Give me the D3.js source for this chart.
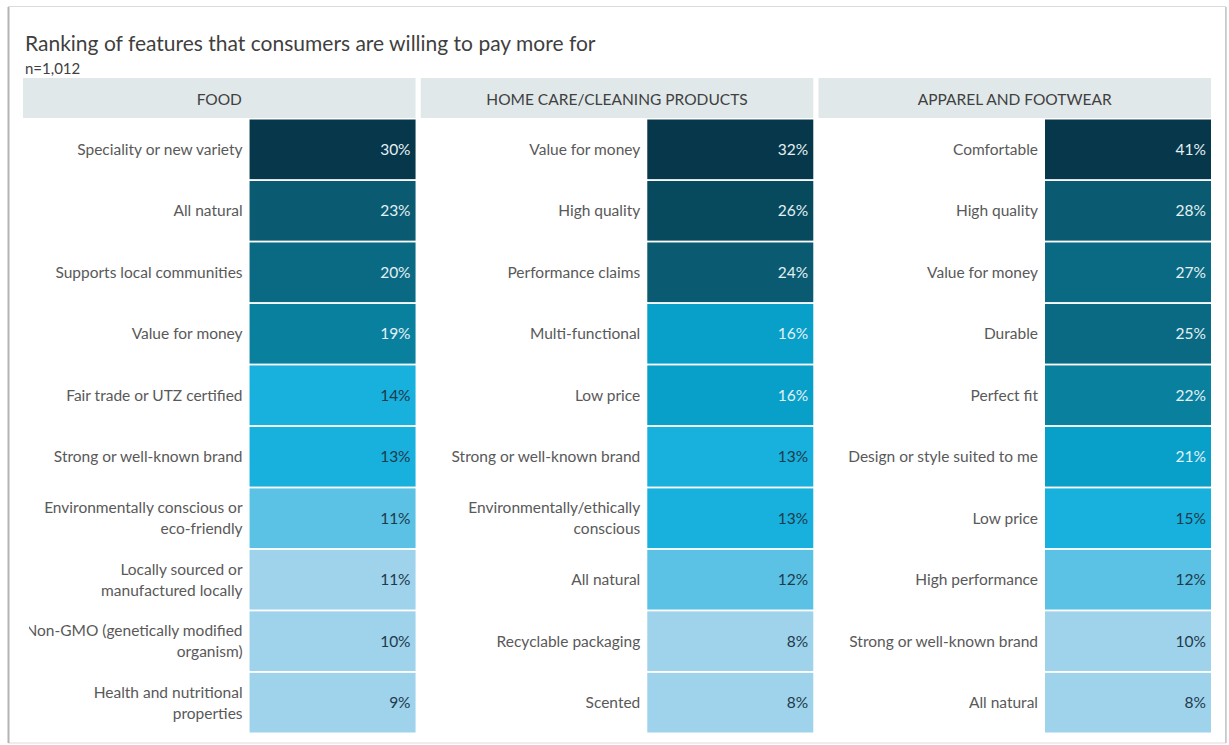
<!DOCTYPE html>
<html>
<head>
<meta charset="utf-8">
<script src="https://cdn.jsdelivr.net/npm/d3@7"></script>
<style>
  body { margin: 0; background: #fff; }
  svg { display: block; font-family: Lato, "Open Sans", "DejaVu Sans", sans-serif; }
</style>
</head>
<body>
<svg id="chart" width="1229" height="745"></svg>
<script>
// Survey panels (column headers)
const categories = ["FOOD", "HOME CARE/CLEANING PRODUCTS", "APPAREL AND FOOTWEAR"];

// Features per panel, in ranked order ("\n" marks a line break in the label)
const foodFeatures = [
  "Speciality or new variety", "All natural", "Supports local communities", "Value for money",
  "Fair trade or UTZ certified", "Strong or well-known brand", "Environmentally conscious or\neco-friendly",
  "Locally sourced or\nmanufactured locally", "Non-GMO (genetically modified\norganism)",
  "Health and nutritional\nproperties"
];
const homeFeatures = [
  "Value for money", "High quality", "Performance claims", "Multi-functional", "Low price",
  "Strong or well-known brand", "Environmentally/ethically\nconscious", "All natural",
  "Recyclable packaging", "Scented"
];
const apparelFeatures = [
  "Comfortable", "High quality", "Value for money", "Durable", "Perfect fit",
  "Design or style suited to me", "Low price", "High performance",
  "Strong or well-known brand", "All natural"
];

// Share of respondents (%)
const foodValues = [30, 23, 20, 19, 14, 13, 11, 11, 10, 9];
const homeValues = [32, 26, 24, 16, 16, 13, 13, 12, 8, 8];
const apparelValues = [41, 28, 27, 25, 22, 21, 15, 12, 10, 8];

// Shade tier of each cell (0 = darkest)
const foodTiers = [0, 2, 3, 4, 6, 6, 7, 8, 8, 8];
const homeTiers = [0, 1, 2, 5, 5, 6, 6, 7, 8, 8];
const apparelTiers = [0, 2, 3, 3, 4, 5, 6, 7, 8, 8];

const title = "Ranking of features that consumers are willing to pay more for";
const subtitle = "n=1,012";

const panels = [
  { name: categories[0], features: foodFeatures, values: foodValues, tiers: foodTiers },
  { name: categories[1], features: homeFeatures, values: homeValues, tiers: homeTiers },
  { name: categories[2], features: apparelFeatures, values: apparelValues, tiers: apparelTiers }
];

const shade = d3.scaleOrdinal()
  .domain(d3.range(9))
  .range(["#06374a", "#074a5e", "#0a5b71", "#0b6a83", "#0a809f", "#08a0c9", "#18b1de", "#5bc2e5", "#9fd2eb"]);
const valueInk = t => (t <= 5 ? "#e3f0f4" : "#1e3a4b");

const svg = d3.select("#chart");

// Card background with a soft edge
svg.append("rect")
  .attr("x", 8.5).attr("y", 6.5).attr("width", 1217).attr("height", 736.5)
  .attr("fill", "#fff").attr("stroke", "#dcdcdc");
svg.append("line").attr("x1", 8.5).attr("x2", 8.5).attr("y1", 7).attr("y2", 743)
  .attr("stroke", "#b4b4b4").attr("stroke-width", 2);
svg.append("line").attr("x1", 1226).attr("x2", 1226).attr("y1", 7).attr("y2", 743)
  .attr("stroke", "#c4c4c4").attr("stroke-width", 1.5);

svg.append("text")
  .attr("x", 25).attr("y", 51)
  .attr("font-size", 21).attr("fill", "#3f3f3f")
  .text(title);
svg.append("text")
  .attr("x", 25).attr("y", 74)
  .attr("font-size", 15).attr("fill", "#404040")
  .text(subtitle);

const x = d3.scaleBand().domain(categories).range([23, 1211]).paddingInner(0.013);
const rows = d3.range(10);
const y = d3.scaleBand().domain(rows).range([119.5, 732.5]).paddingInner(0.03);
const valueWidth = 166;

const defs = svg.append("defs");

panels.forEach((p, pi) => {
  const x0 = x(p.name);
  const w = x.bandwidth();
  const cellX = x0 + w - valueWidth;

  // Labels that run past the panel's left edge are cut off there
  defs.append("clipPath").attr("id", "clip" + pi)
    .append("rect").attr("x", x0 + 6).attr("y", 78).attr("width", w - 6).attr("height", 660);

  const g = svg.append("g");

  // Header band
  g.append("rect")
    .attr("x", x0).attr("y", 78).attr("width", w).attr("height", 40)
    .attr("fill", "#e1e8ea");
  g.append("text")
    .attr("x", x0 + w / 2).attr("y", 105)
    .attr("text-anchor", "middle")
    .attr("font-size", 15.5).attr("fill", "#404040")
    .text(p.name);

  const rowG = g.selectAll("g.row")
    .data(rows)
    .join("g").attr("class", "row");

  rowG.append("rect")
    .attr("x", cellX).attr("y", i => y(i))
    .attr("width", valueWidth).attr("height", y.bandwidth())
    .attr("fill", i => shade(p.tiers[i]));

  rowG.append("text")
    .attr("x", cellX + valueWidth - 5)
    .attr("y", i => y(i) + y.bandwidth() / 2 + 5.5)
    .attr("text-anchor", "end")
    .attr("font-size", 15.5)
    .attr("fill", i => valueInk(p.tiers[i]))
    .text(i => p.values[i] + "%");

  rowG.append("text")
    .attr("clip-path", `url(#clip${pi})`)
    .attr("text-anchor", "end")
    .attr("font-size", 15.5)
    .attr("fill", "#595959")
    .each(function (i) {
      const lines = p.features[i].split("\n");
      const cy = y(i) + y.bandwidth() / 2;
      const start = cy + 5.5 - (lines.length - 1) * 10.5;
      d3.select(this).selectAll("tspan")
        .data(lines)
        .join("tspan")
        .attr("x", cellX - 7)
        .attr("y", (d, k) => start + k * 21)
        .text(d => d);
    });
});
</script>
</body>
</html>
